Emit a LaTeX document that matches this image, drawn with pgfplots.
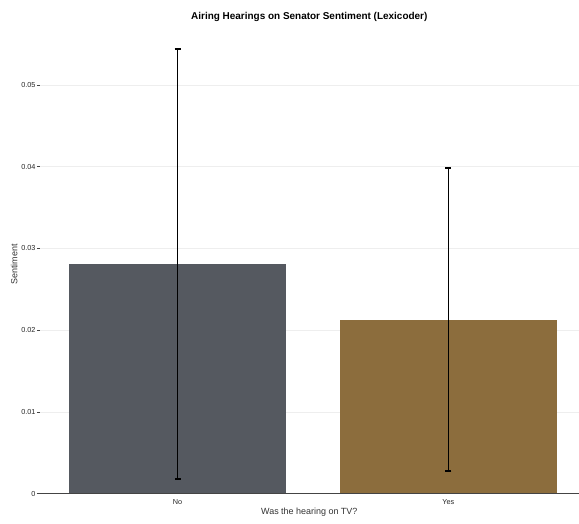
\documentclass[border=0pt]{standalone}
\usepackage{pgfplots}
\pgfplotsset{compat=1.18}
\usepackage{fontspec}
\setmainfont{Liberation Sans}
\definecolor{barNo}{HTML}{555960}
\definecolor{barYes}{HTML}{8C6D3D}
\definecolor{gridc}{HTML}{EEEEEE}
\definecolor{axc}{HTML}{444444}
\begin{document}
\begin{tikzpicture}
\begin{axis}[
  name=ax,
  scale only axis,
  width=539bp, height=459bp,
  xmin=-0.508, xmax=1.481,
  ymin=0, ymax=0.0561,
  scaled y ticks=false,
  xtick={0,1}, xticklabels={No,Yes},
  ytick={0,0.01,0.02,0.03,0.04,0.05},
  yticklabels={0,0.01,0.02,0.03,0.04,0.05},
  axis line style={draw=none},
  ymajorgrids, grid style={gridc, line width=0.6bp},
  tick style={axc, line width=0.5bp},
  major tick length=3bp,
  xtick style={draw=none},
  tick align=outside,
  ytick pos=left, xtick pos=bottom,
  ticklabel style={font=\fontsize{7.3}{8}\selectfont, text=black!85},
  yticklabel style={xshift=2bp},
  xticklabel style={yshift=1bp},
  xlabel={Was the hearing on TV?},
  ylabel={Sentiment},
  label style={font=\fontsize{9}{10}\selectfont, text=black!80},
  xlabel style={yshift=3bp},
  ylabel style={yshift=-3bp},
  title={\textbf{Airing Hearings on Senator Sentiment (Lexicoder)}},
  title style={font=\fontsize{10}{12}\selectfont, yshift=4bp},
  clip=false,
]
\addplot[ybar, bar width=217bp, fill=barNo, draw=none, bar shift=0pt]
  coordinates {(0,0.0281)};
\addplot[ybar, bar width=217bp, fill=barYes, draw=none, bar shift=0pt]
  coordinates {(1,0.0213)};
% baseline
\draw[axc, line width=0.8bp] ([xshift=-3bp]rel axis cs:0,0) -- (rel axis cs:1,0);
% error bars
\addplot[black, line width=1.6bp, draw=none,
  error bars/.cd, y dir=both, y explicit,
  error bar style={black, line width=1.6bp},
  error mark options={black, rotate=90, mark size=3bp, line width=1.6bp}]
  coordinates {
    (0,0.0281) +- (0,0.0263)
    (1,0.0213) +- (0,0.0185)
  };
\end{axis}
\path[use as bounding box] ([shift={(-40bp,-30bp)}]ax.south west) rectangle ([shift={(0bp,35bp)}]ax.north east);
\end{tikzpicture}
\end{document}
